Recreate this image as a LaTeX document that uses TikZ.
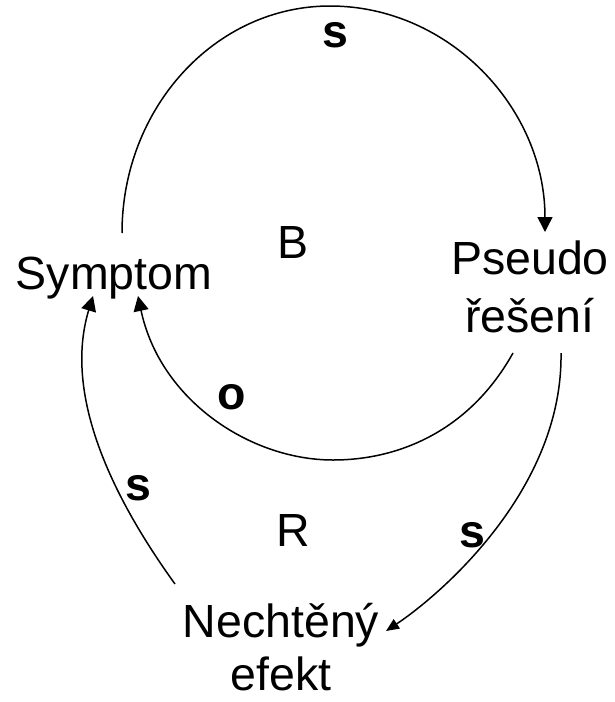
\documentclass[tikz,border=0pt]{standalone}
\usepackage{fontspec}
\setmainfont{Liberation Sans}
\usetikzlibrary{arrows.meta}
\tikzset{
  lbl/.style={inner sep=0pt, outer sep=0pt, anchor=base, align=center,
    font=\fontsize{46.5}{58}\selectfont},
  pol/.style={inner sep=0pt, outer sep=0pt, anchor=base,
    font=\fontsize{46.5}{58}\selectfont\bfseries},
  link/.style={line width=1.5pt, -{Triangle[length=15pt,width=15pt]}},
  linksm/.style={line width=1.5pt, -{Triangle[length=13pt,width=11pt]}}
}
\begin{document}
\begin{tikzpicture}[x=1pt,y=-1pt]
\useasboundingbox (0,0) rectangle (615,702);
% nodes (base anchor = baseline of the last line)
\node[lbl] (sym) at (114,289) {Symptom};
\node[lbl] (pse) at (530,332) {Pseudo\\řešení};
\node[lbl, font=\fontsize{46.5}{53}\selectfont] (neg) at (281,690) {Nechtěný\\efekt};
\node[lbl] (B) at (293,258) {B};
\node[lbl] (R) at (293,546) {R};
\node[pol] (s1) at (335,47) {s};
\node[pol] (o1) at (232,409) {o};
\node[pol] (s2) at (138,500) {s};
\node[pol] (s3) at (472,547) {s};
% connector end points
\coordinate (a1) at (122,233);
\coordinate (a2) at (545,232);
\coordinate (b1) at (513,353);
\coordinate (b2) at (138,296);
\coordinate (c1) at (175,584);
\coordinate (c2) at (93,296);
\coordinate (d1) at (561,353);
\coordinate (d2) at (386,631);
% connectors
\draw[link] (a1) .. controls (122,108) and (215,6) .. (330,6)
  .. controls (449,6) and (545,108) .. (a2);
\draw[link] (b1) .. controls (470,430) and (400,460) .. (333,460)
  .. controls (250,460) and (160,400) .. (b2);
\draw[link] (c1) .. controls (100,480) and (66,385) .. (c2);
\draw[linksm] (d1) .. controls (563,490) and (440,595) .. (d2);
\end{tikzpicture}
\end{document}
